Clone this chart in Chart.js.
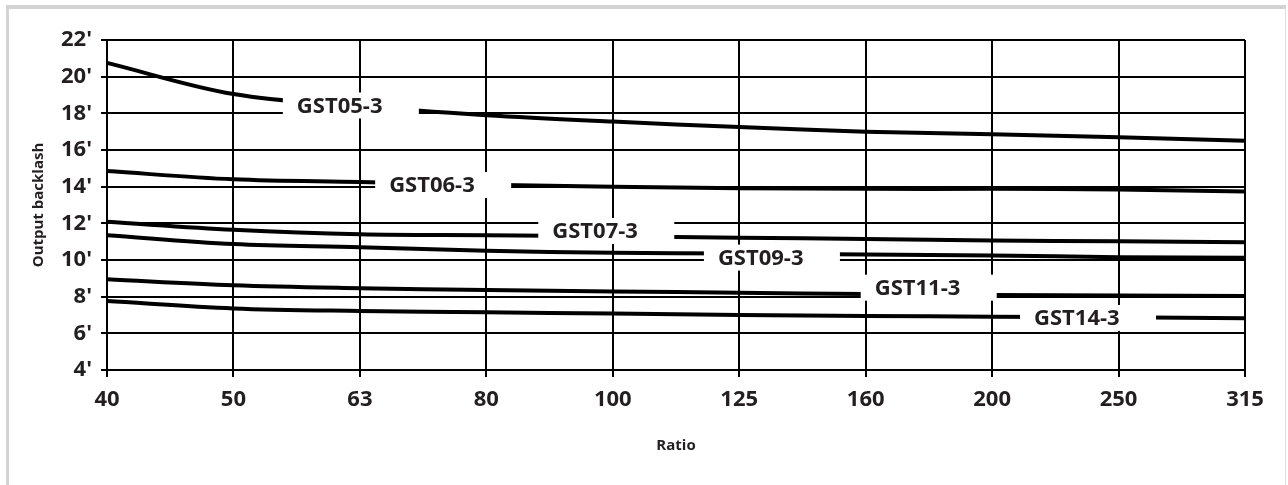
<!DOCTYPE html>
<html>
<head>
<meta charset="utf-8">
<script src="https://cdn.jsdelivr.net/npm/chart.js@4.4.0/dist/chart.umd.min.js"></script>
<style>
  html, body { margin: 0; padding: 0; background: #fff; }
  #frame {
    position: absolute; left: 6px; top: 5px; width: 1280px; height: 520px;
    box-sizing: border-box;
    border-left: 3px solid #d4d4d4; border-top: 4px solid #d4d4d4; border-right: 1px solid #dedede;
  }
  #backlashChart { position: absolute; left: 0; top: 0; }
</style>
</head>
<body>
<div id="frame"></div>
<canvas id="backlashChart" width="1288" height="485"></canvas>
<script>
// Datos (juego en minutos de arco por relación de reducción)
const ratios = ['40', '50', '63', '80', '100', '125', '160', '200', '250', '315'];

const gst05 = [20.75, 19.05, 18.38, 17.9, 17.55, 17.25, 17.0, 16.86, 16.7, 16.5];
const gst06 = [14.85, 14.4, 14.25, 14.1, 14.0, 13.92, 13.88, 13.88, 13.85, 13.73];
const gst07 = [12.08, 11.65, 11.4, 11.35, 11.3, 11.22, 11.15, 11.07, 11.02, 10.97];
const gst09 = [11.35, 10.87, 10.7, 10.5, 10.4, 10.35, 10.3, 10.25, 10.15, 10.12];
const gst11 = [8.95, 8.62, 8.46, 8.36, 8.28, 8.22, 8.14, 8.09, 8.06, 8.04];
const gst14 = [7.76, 7.36, 7.22, 7.15, 7.08, 7.0, 6.95, 6.91, 6.88, 6.82];

const seriesNames = ['GST05-3', 'GST06-3', 'GST07-3', 'GST09-3', 'GST11-3', 'GST14-3'];
const seriesValues = [gst05, gst06, gst07, gst09, gst11, gst14];

// Dónde va cada etiqueta de curva (índice de categoría, valor)
const labelAt = [[1.84, 18.43], [2.57, 14.09], [3.86, 11.58], [5.17, 10.13], [6.41, 8.49], [7.67, 6.84]];

const textColor = '#231f20';
const tickFont = { family: '"Open Sans", sans-serif', size: 22, weight: 'bold' };
const titleFont = { family: '"Open Sans", sans-serif', size: 15, weight: 'bold' };

// Etiquetas con fondo blanco que cortan las curvas
const curveLabels = {
    id: 'curveLabels',
    afterDatasetsDraw(chart) {
        const { ctx, scales: { x, y } } = chart;
        ctx.save();
        ctx.font = 'bold 22px "Open Sans", sans-serif';
        ctx.textBaseline = 'middle';
        ctx.textAlign = 'left';
        seriesNames.forEach((name, i) => {
            const px = x.getPixelForValue(labelAt[i][0]);
            const py = y.getPixelForValue(labelAt[i][1]);
            const left = px - ctx.measureText(name).width / 2;
            ctx.fillStyle = '#fff';
            ctx.fillRect(left - 14, py - 13, 136, 26);
            ctx.fillStyle = textColor;
            ctx.fillText(name, left, py + 1);
        });
        ctx.restore();
    }
};

const ctx = document.getElementById('backlashChart').getContext('2d');
const backlashChart = new Chart(ctx, {
    type: 'line',
    data: {
        labels: ratios,
        datasets: seriesValues.map((vals, i) => ({
            label: seriesNames[i],
            data: vals,
            borderColor: '#000',
            borderWidth: 4,
            pointRadius: 0,
            fill: false,
            tension: 0.35
        }))
    },
    options: {
        responsive: false,
        animation: false,
        layout: { padding: { top: 40, right: 43, bottom: 0, left: 0 } },
        plugins: {
            legend: { display: false },
            tooltip: { enabled: false }
        },
        scales: {
            x: {
                offset: false,
                grid: { color: '#000', lineWidth: 2, tickLength: 7 },
                border: { color: '#000', width: 2 },
                ticks: { font: tickFont, color: textColor, padding: 10, maxRotation: 0, autoSkip: false },
                title: { display: true, text: 'Ratio', font: titleFont, color: textColor, padding: { top: 0, bottom: 30 } },
                afterFit: s => { s.height = 115; }
            },
            y: {
                min: 4,
                max: 22,
                grid: { color: '#000', lineWidth: 2, tickLength: 6 },
                border: { color: '#000', width: 2 },
                ticks: {
                    stepSize: 2,
                    font: tickFont,
                    color: textColor,
                    padding: 9,
                    callback: v => v + "'"
                },
                title: { display: true, text: 'Output backlash', font: titleFont, color: textColor, padding: { top: 30, bottom: 0 } },
                afterFit: s => { s.width = 107; }
            }
        }
    },
    plugins: [curveLabels]
});
</script>
</body>
</html>
